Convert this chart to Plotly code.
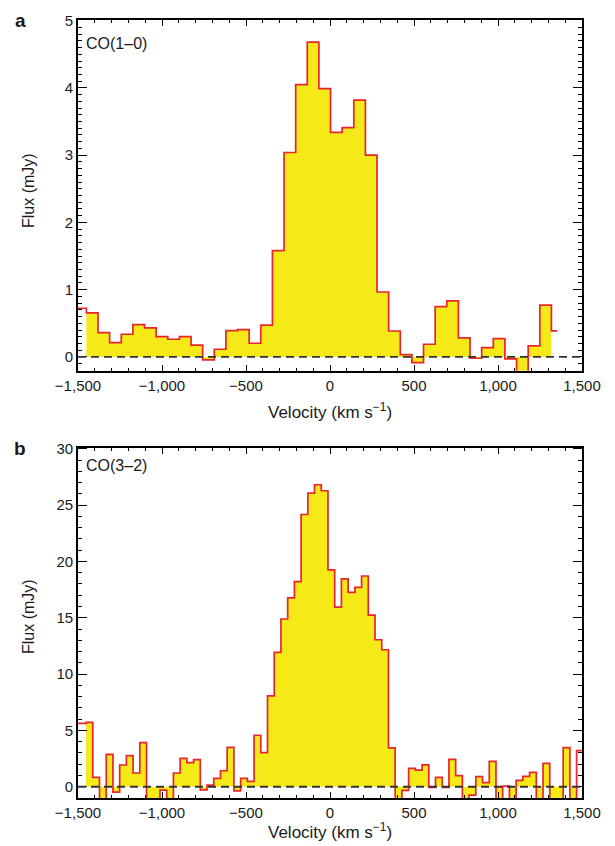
import numpy as np
import plotly.graph_objects as go

# ---------------- data ----------------
# Panel a: CO(1-0) spectrum (flux in mJy per velocity channel)
co10_start = -1450.0          # left edge of first full channel (km/s)
co10_width = 69.2             # channel width (km/s)
co10_flux = [0.655, 0.362, 0.213, 0.337, 0.481, 0.432, 0.303, 0.263, 0.303, 0.174,
             -0.045, 0.114, 0.392, 0.407, 0.203, 0.472, 1.58, 3.04, 4.05, 4.68,
             3.99, 3.34, 3.41, 3.82, 3.00, 0.965, 0.385, 0.035, -0.084, 0.188,
             0.749, 0.833, 0.283, -0.02, 0.139, 0.273, -0.03, -0.25, 0.164, 0.769]
co10_left_tail = 0.724        # partial channel at left edge (outline only)
co10_right_tail = 0.387       # half channel after last full one (outline only)
co10_right_end = 1352.6

# Panel b: CO(3-2) spectrum
co32_start = -1452.0
co32_width = 40.0
co32_flux = [5.72, 0.83, -1.3, 2.88, -0.47, 1.93, 2.76, 1.22, 3.91, -1.3,
             -1.3, -0.30, -1.3, 1.22, 2.52, 2.14, 2.40, -0.27, 0.15, 0.74,
             1.42, 3.50, -0.36, 0.74, 0.47, 4.57, 3.02, 8.07, 11.92, 14.89,
             16.76, 18.21, 24.17, 26.07, 26.81, 26.28, 19.25, 15.95, 18.45, 17.26,
             17.70, 18.71, 15.24, 13.05, 12.16, 3.45, -1.3, -0.33, 1.63, 1.48,
             1.94, -0.06, 0.83, -0.06, 2.43, 0.98, -1.3, -0.74, 0.89, 0.36,
             2.25, -1.3, 0.06, -1.3, 0.56, 0.92, 1.28, -1.3, 2.08, -1.3,
             -1.3, 3.47, -1.3]
co32_left_tail = 5.63
co32_right_tail = 3.2
co32_right_end = 1500.0

vel_tickvals = [-1500, -1000, -500, 0, 500, 1000, 1500]
vel_ticktext = ["\u22121,500", "\u22121,000", "\u2212500", "0", "500", "1,000", "1,500"]
co10_yticks = [0, 1, 2, 3, 4, 5]
co32_yticks = [0, 5, 10, 15, 20, 25, 30]

# ---------------- style ----------------
FILL = "#f5e918"
EDGE = "#e8242c"
FONT = "Liberation Sans, Arial, Helvetica, sans-serif"
OFF = 8                      # page body margin offset
W, H = 607, 838
ML, MR, MT, MB = 70, 33, 12, 48

def px2x(px):
    return (px - OFF - ML) / (W - ML - MR)

def px2y(py):
    return (H - MB - (py - OFF)) / (H - MT - MB)

fig = go.Figure()

def add_spectrum(start, width, flux, ltail, rtail, rend, xa, ya):
    n = len(flux)
    edges = start + width * np.arange(n + 1)
    # filled full channels
    fig.add_trace(go.Scatter(
        x=list(edges), y=list(flux) + [flux[-1]],
        mode="lines", line=dict(width=0, shape="hv", color=FILL),
        fill="tozeroy", fillcolor=FILL, xaxis=xa, yaxis=ya,
        hoverinfo="skip", showlegend=False))
    # outline including partial channels
    fig.add_trace(go.Scatter(
        x=[-1500.0] + list(edges) + [rend],
        y=[ltail] + list(flux) + [rtail, rtail],
        mode="lines", line=dict(width=1.7, shape="hv", color=EDGE),
        xaxis=xa, yaxis=ya, showlegend=False))

add_spectrum(co10_start, co10_width, co10_flux, co10_left_tail, co10_right_tail,
             co10_right_end, "x", "y")
add_spectrum(co32_start, co32_width, co32_flux, co32_left_tail, co32_right_tail,
             co32_right_end, "x2", "y2")

top_dom = [px2y(370.7), 1.0]
bot_dom = [0.0, px2y(447.7)]

axis_common = dict(showline=True, linecolor="black", linewidth=1.8, mirror="allticks",
                   ticks="inside", tickcolor="black", tickwidth=1.3,
                   showgrid=False, zeroline=False, automargin=False,
                   tickfont=dict(family=FONT, size=15, color="#1a1a1a"))

xcommon = dict(axis_common, range=[-1500, 1500], tickmode="array",
               tickvals=vel_tickvals, ticktext=vel_ticktext, ticklen=6,
               minor=dict(dtick=100, tick0=0, ticks="inside", ticklen=3,
                          tickcolor="black", tickwidth=1.1))

fig.update_layout(
    width=W, height=H, margin=dict(l=ML, r=MR, t=MT, b=MB),
    paper_bgcolor="white", plot_bgcolor="white",
    xaxis=dict(xcommon, anchor="y", domain=[0, 1]),
    yaxis=dict(axis_common, anchor="x", domain=top_dom, range=[-0.205, 5.01],
               tickmode="array", tickvals=co10_yticks,
               ticktext=[str(v) for v in co10_yticks], ticklen=9,
               minor=dict(dtick=0.1, tick0=0, ticks="inside", ticklen=4.5,
                          tickcolor="black", tickwidth=1.1)),
    xaxis2=dict(xcommon, anchor="y2", domain=[0, 1]),
    yaxis2=dict(axis_common, anchor="x2", domain=bot_dom, range=[-1.0, 30.1],
                tickmode="array", tickvals=co32_yticks,
                ticktext=[str(v) for v in co32_yticks], ticklen=9,
                minor=dict(dtick=1, tick0=0, ticks="inside", ticklen=4.5,
                           tickcolor="black", tickwidth=1.1)),
)

# dashed zero lines
for xr, yr in (("x", "y"), ("x2", "y2")):
    fig.add_shape(type="line", xref=xr, yref=yr, x0=-1500, x1=1500, y0=0, y1=0,
                  line=dict(color="#333333", width=1.9, dash="8px,5px"), layer="above")

ann_font = dict(family=FONT, size=16, color="#1a1a1a")
title_font = dict(family=FONT, size=17, color="#1a1a1a")
anns = [
    dict(text="<b>a</b>", x=px2x(20), y=px2y(20), font=dict(family=FONT, size=19, color="#1a1a1a")),
    dict(text="<b>b</b>", x=px2x(20), y=px2y(448), font=dict(family=FONT, size=19, color="#1a1a1a")),
    dict(text="CO(1\u20130)", x=px2x(84), y=px2y(44), xanchor="left", font=ann_font),
    dict(text="CO(3\u20132)", x=px2x(84), y=px2y(465), xanchor="left", font=ann_font),
    dict(text="Flux (mJy)", x=px2x(28), y=px2y(191), textangle=-90, font=ann_font),
    dict(text="Flux (mJy)", x=px2x(28), y=px2y(617), textangle=-90, font=ann_font),
    dict(text="Velocity (km s<sup>\u22121</sup>)", x=px2x(330), y=px2y(411), font=title_font),
    dict(text="Velocity (km s<sup>\u22121</sup>)", x=px2x(330), y=px2y(831), font=title_font),
]
for a in anns:
    a.setdefault("xanchor", "center")
    fig.add_annotation(xref="paper", yref="paper", yanchor="middle", showarrow=False, **a)

fig.write_html("out.html")
